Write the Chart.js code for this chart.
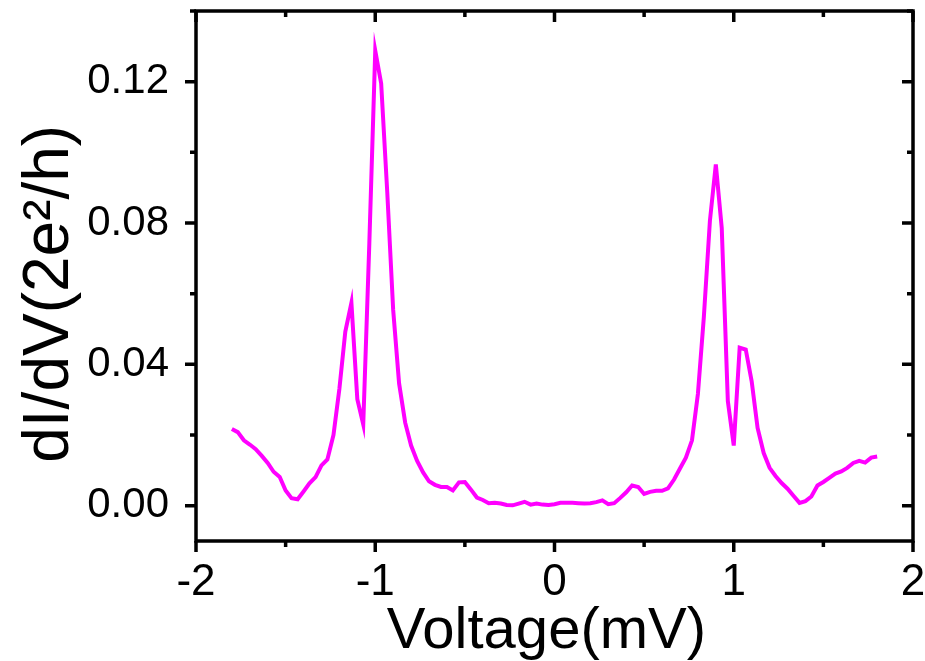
<!DOCTYPE html>
<html>
<head>
<meta charset="utf-8">
<script src="https://cdn.jsdelivr.net/npm/chart.js@4.4.1/dist/chart.umd.min.js"></script>
<style>
  html, body { margin: 0; padding: 0; background: #fff; }
  canvas { display: block; }
</style>
</head>
<body>
<canvas id="myChart" width="925" height="661"></canvas>
<script>
// Voltage (mV) and differential conductance dI/dV (2e^2/h)
var voltage = [
  -1.800, -1.767, -1.733, -1.700, -1.667, -1.633, -1.600, -1.567, -1.533, -1.500,
  -1.467, -1.433, -1.400, -1.367, -1.333, -1.300, -1.267, -1.233, -1.200, -1.167,
  -1.133, -1.100, -1.067, -1.033, -1.000, -0.967, -0.933, -0.900, -0.867, -0.833,
  -0.800, -0.767, -0.733, -0.700, -0.667, -0.633, -0.600, -0.567, -0.533, -0.500,
  -0.467, -0.433, -0.400, -0.367, -0.333, -0.300, -0.267, -0.233, -0.200, -0.167,
  -0.133, -0.100, -0.067, -0.033, 0.000, 0.033, 0.067, 0.100, 0.133, 0.167,
  0.200, 0.233, 0.267, 0.300, 0.333, 0.367, 0.400, 0.433, 0.467, 0.500,
  0.533, 0.567, 0.600, 0.633, 0.667, 0.700, 0.733, 0.767, 0.800, 0.833,
  0.867, 0.900, 0.933, 0.967, 1.000, 1.033, 1.067, 1.100, 1.133, 1.167,
  1.200, 1.233, 1.267, 1.300, 1.333, 1.367, 1.400, 1.433, 1.467, 1.500,
  1.533, 1.567, 1.600, 1.633, 1.667, 1.700, 1.733, 1.767, 1.800
];
var conductance = [
  0.0217, 0.0208, 0.0185, 0.0173, 0.0160, 0.0141, 0.0121, 0.0096, 0.0081, 0.0043,
  0.0021, 0.0018, 0.0040, 0.0063, 0.0081, 0.0114, 0.0131, 0.0200, 0.0331, 0.0493,
  0.0574, 0.0301, 0.0230, 0.0743, 0.1288, 0.1195, 0.0887, 0.0554, 0.0346, 0.0235,
  0.0170, 0.0127, 0.0094, 0.0069, 0.0059, 0.0053, 0.0053, 0.0043, 0.0066, 0.0067,
  0.0046, 0.0023, 0.0016, 0.0007, 0.0008, 0.0006, 0.0002, 0.0001, 0.0006, 0.0011,
  0.0003, 0.0006, 0.0003, 0.0002, 0.0004, 0.0008, 0.0008, 0.0008, 0.0007, 0.0006,
  0.0007, 0.0010, 0.0015, 0.0004, 0.0007, 0.0022, 0.0038, 0.0057, 0.0053, 0.0033,
  0.0039, 0.0042, 0.0042, 0.0049, 0.0074, 0.0105, 0.0136, 0.0185, 0.0316, 0.0533,
  0.0806, 0.0966, 0.0786, 0.0296, 0.0170, 0.0447, 0.0442, 0.0352, 0.0220, 0.0149,
  0.0107, 0.0084, 0.0064, 0.0048, 0.0028, 0.0008, 0.0013, 0.0026, 0.0057, 0.0067,
  0.0079, 0.0091, 0.0097, 0.0107, 0.0121, 0.0127, 0.0122, 0.0136, 0.0139
];
var xMajorTicks = [-2, -1, 0, 1, 2];
var xMinorTicks = [-1.5, -0.5, 0.5, 1.5];
var yMajorTicks = [0, 0.04, 0.08, 0.12];
var yMinorTicks = [0.02, 0.06, 0.10, 0.14];

var points = voltage.map(function (v, i) { return { x: v, y: conductance[i] }; });
var fontFamily = "'Liberation Sans', Arial, sans-serif";

// Origin-style frame: outward ticks on left/bottom, inward on top/right
var framePlugin = {
  id: 'frame',
  afterDraw: function (chart) {
    var ctx = chart.ctx;
    var a = chart.chartArea;
    var xs = chart.scales.x, ys = chart.scales.y;
    ctx.save();
    ctx.strokeStyle = '#000';
    ctx.lineWidth = 3.5;
    ctx.lineCap = 'butt';
    ctx.strokeRect(a.left, a.top, a.right - a.left, a.bottom - a.top);
    function tickX(list, len) {
      list.forEach(function (v) {
        var px = xs.getPixelForValue(v);
        ctx.beginPath();
        ctx.moveTo(px, a.bottom); ctx.lineTo(px, a.bottom + len);
        ctx.moveTo(px, a.top); ctx.lineTo(px, a.top + len);
        ctx.stroke();
      });
    }
    function tickY(list, len) {
      list.forEach(function (v) {
        var py = ys.getPixelForValue(v);
        ctx.beginPath();
        ctx.moveTo(a.left, py); ctx.lineTo(a.left - len, py);
        ctx.moveTo(a.right, py); ctx.lineTo(a.right - len, py);
        ctx.stroke();
      });
    }
    tickX(xMajorTicks, 11);
    tickX(xMinorTicks, 6);
    tickY(yMajorTicks, 11);
    tickY(yMinorTicks, 6);
    ctx.restore();
  }
};

var ctx = document.getElementById('myChart').getContext('2d');
var myChart = new Chart(ctx, {
  type: 'line',
  data: {
    datasets: [{
      data: points,
      borderColor: '#ff00ff',
      borderWidth: 4,
      pointRadius: 0,
      tension: 0,
      fill: false
    }]
  },
  options: {
    responsive: false,
    animation: false,
    devicePixelRatio: 1,
    layout: { autoPadding: false, padding: { top: 11, right: 12, left: 0, bottom: 0 } },
    plugins: { legend: { display: false }, tooltip: { enabled: false } },
    scales: {
      x: {
        type: 'linear',
        min: -2,
        max: 2,
        grid: { display: false },
        border: { display: false },
        ticks: {
          stepSize: 1,
          padding: 7,
          color: '#000',
          font: { family: fontFamily, size: 44 },
          callback: function (v) { return String(v); }
        },
        title: {
          display: true,
          text: 'Voltage(mV) ',
          color: '#000',
          font: { family: fontFamily, size: 58, lineHeight: 1 },
          padding: 0
        },
        afterFit: function (scale) {
          scale.height = 120;
          scale.paddingLeft = 0; scale.paddingRight = 0;
        }
      },
      y: {
        min: -0.01,
        max: 0.14,
        grid: { display: false },
        border: { display: false },
        ticks: {
          stepSize: 0.04,
          includeBounds: false,
          padding: 19,
          color: '#000',
          font: { family: fontFamily, size: 42 },
          callback: function (v) { return Number(v).toFixed(2); }
        },
        title: {
          display: true,
          text: 'dI/dV(2e²/h)  ',
          color: '#000',
          font: { family: fontFamily, size: 64, lineHeight: 1 },
          padding: { top: 18, bottom: 0 }
        },
        afterFit: function (scale) {
          scale.width = 196;
          scale.paddingTop = 0; scale.paddingBottom = 0;
        }
      }
    }
  },
  plugins: [framePlugin]
});
</script>
</body>
</html>
